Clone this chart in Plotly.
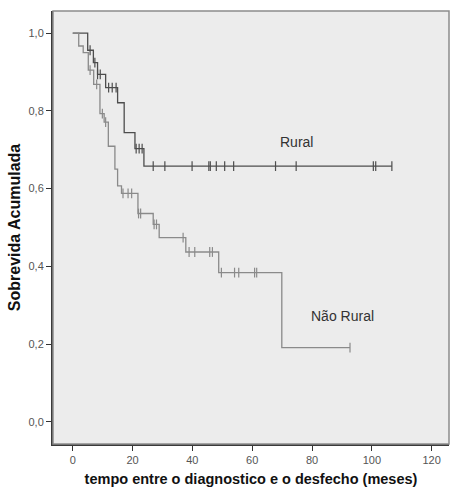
import numpy as np
import plotly.graph_objects as go

# ---- data ----
rural_times = [0, 5.0, 6.9, 8.3, 11.0, 15.0, 17.2, 20.8, 23.8]
rural_surv = [1.0, 0.956, 0.924, 0.894, 0.860, 0.821, 0.744, 0.703, 0.658]
rural_censor = [5.8, 7.4, 8.3, 9.2, 12.0, 13.2, 14.5, 21.2, 22.2, 23.2,
                26.9, 30.8, 39.9, 45.5, 46.0, 48.0, 50.8, 53.8, 67.8, 74.7,
                100.5, 101.3, 106.7]

nrural_times = [0, 2.0, 3.5, 5.2, 7.0, 9.1, 10.5, 11.9, 14.1, 15.0, 16.3,
                21.8, 26.9, 28.9, 37.8, 48.8, 69.9]
nrural_surv = [1.0, 0.967, 0.950, 0.905, 0.868, 0.793, 0.771, 0.709, 0.650,
               0.607, 0.588, 0.536, 0.508, 0.474, 0.437, 0.384, 0.191]
nrural_censor = [5.8, 8.0, 9.9, 11.0, 16.8, 18.5, 19.7, 22.0, 22.7, 27.2, 28.0,
                 36.9, 38.9, 40.8, 45.8, 46.7, 49.7, 54.1, 55.5, 60.8, 61.5, 92.7]

x_ticks = [0, 20, 40, 60, 80, 100, 120]
y_ticks = [0.0, 0.2, 0.4, 0.6, 0.8, 1.0]
y_tick_text = ["0,0", "0,2", "0,4", "0,6", "0,8", "1,0"]

x_title = "tempo entre o diagnostico e o desfecho (meses)"
y_title = "Sobrevida Acumulada"
series_names = ["Rural", "Não Rural"]


def step_value(times, surv, t):
    idx = np.searchsorted(np.asarray(times), np.asarray(t), side="right") - 1
    return np.asarray(surv)[idx]


fig = go.Figure()

series = [
    (rural_times, rural_surv, rural_censor, "#4d4d4d"),
    (nrural_times, nrural_surv, nrural_censor, "#8a8a8a"),
]
for (tms, sv, cens, col), name in zip(series, series_names):
    end_t = max(cens[-1], tms[-1])
    xs = list(tms) + [end_t]
    ys = list(sv) + [sv[-1]]
    fig.add_trace(go.Scatter(x=xs, y=ys, mode="lines", line_shape="hv",
                             line=dict(color=col, width=1.3), name=name,
                             showlegend=False, hoverinfo="skip"))
    fig.add_trace(go.Scatter(x=cens, y=step_value(tms, sv, cens), mode="markers",
                             marker=dict(symbol="line-ns-open", size=7, color=col,
                                         line=dict(color=col, width=1.2)),
                             showlegend=False, hoverinfo="skip"))

fig.add_annotation(x=74.8, y=0.721, text=series_names[0], showarrow=False,
                   font=dict(family="Liberation Sans, Arial", size=14, color="#333333"))
fig.add_annotation(x=90.3, y=0.272, text=series_names[1], showarrow=False,
                   font=dict(family="Liberation Sans, Arial", size=14, color="#333333"))

# light frame (top/right)
fig.add_shape(type="rect", xref="paper", yref="paper", x0=0, y0=0, x1=1, y1=1,
              line=dict(color="#8c8c8c", width=1.5), layer="above")

fig.update_layout(
    width=451, height=490,
    margin=dict(l=53, r=2, t=11, b=46),
    paper_bgcolor="white",
    plot_bgcolor="#ececec",
    font=dict(family="Liberation Sans, Arial", color="#444444"),
    xaxis=dict(range=[-6.6, 125.8], tickvals=x_ticks, ticks="outside",
               ticklen=5, tickcolor="#333333", showgrid=False, zeroline=False,
               showline=True, linecolor="#3a3a3a", linewidth=2,
               tickfont=dict(size=11, color="#555555"),
               title=dict(text="<b>" + x_title + "</b>",
                          font=dict(size=14.5, color="#111111"), standoff=9)),
    yaxis=dict(range=[-0.057, 1.057], tickvals=y_ticks, ticktext=y_tick_text,
               ticks="outside", ticklen=5, tickcolor="#333333", showgrid=False,
               zeroline=False, showline=True, linecolor="#3a3a3a", linewidth=2,
               tickfont=dict(size=11, color="#555555"),
               title=dict(text="<b>" + y_title + "</b>",
                          font=dict(size=16, color="#111111"), standoff=4)),
)

fig.write_html("out.html")
